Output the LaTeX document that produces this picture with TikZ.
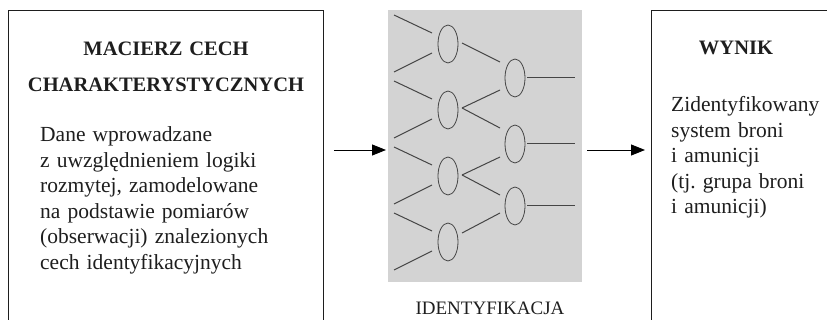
\documentclass[tikz,border=0pt]{standalone}
\usepackage{fontspec}
\setmainfont{Liberation Serif}
\usetikzlibrary{shapes.geometric,arrows.meta,calc}
\definecolor{netgray}{HTML}{D3D3D3}
\definecolor{ink}{HTML}{1E1E1E}
\definecolor{wire}{HTML}{454545}
\frenchspacing
\begin{document}
\begin{tikzpicture}[x=1pt,y=-1pt,
  boxs/.style={draw=ink, line width=0.9pt, inner sep=0pt},
  neur/.style={ellipse, draw=wire, line width=0.8pt, minimum width=20pt, minimum height=38pt, inner sep=0pt},
  wireln/.style={draw=wire, line width=1pt},
  arr/.style={draw=black, line width=0.9pt, -{Triangle[length=14pt,width=11pt]}},
  body/.style={font=\fontsize{21.5}{25.5}\selectfont, text=ink, text width=290pt, align=left, inner sep=0pt, anchor=base west},
  head/.style={font=\bfseries\fontsize{20.5}{36}\selectfont, text=ink, align=center, inner sep=0pt, anchor=base}]
\path[use as bounding box] (0,0) rectangle (827,320);
\clip (0,0) rectangle (827,320);
\fill[white] (0,0) rectangle (827,320);
% boxes
\node[boxs, minimum width=315pt, minimum height=330pt, anchor=north west] (lbox) at (8,10) {};
\node[boxs, minimum width=200pt, minimum height=330pt, anchor=north west] (rbox) at (651,10) {};
\node[fill=netgray, minimum width=194pt, minimum height=272pt, anchor=north west, inner sep=0pt] (net) at (388,10) {};
% neurons
\foreach \i/\y in {1/44,2/110,3/176,4/242}{
  \node[neur] (E\i) at (448,\y) {};
}
\foreach \i/\y in {1/78,2/144,3/206}{
  \node[neur] (F\i) at (515,\y) {};
}
% inputs
\foreach \i/\y in {1/44,2/110,3/176,4/242}{
  \coordinate (in\i a) at (394,\y-29);
  \coordinate (in\i b) at (394,\y+28);
  \draw[wireln] (in\i a) -- ($(E\i)+(-16,-11)$);
  \draw[wireln] (in\i b) -- ($(E\i)+(-16,9)$);
}
% hidden connections
\draw[wireln] ($(E1)+(14,-1)$) -- ($(F1)+(-15,-16)$);
\draw[wireln] ($(E2)+(14,-2)$) -- ($(F1)+(-15,12)$);
\draw[wireln] ($(E2)+(14,-2)$) -- ($(F2)+(-15,-16)$);
\draw[wireln] ($(E3)+(14,-1)$) -- ($(F2)+(-15,13)$);
\draw[wireln] ($(E3)+(14,-1)$) -- ($(F3)+(-15,-11)$);
\draw[wireln] ($(E4)+(14,-9)$) -- ($(F3)+(-15,7)$);
% outputs
\foreach \i/\y in {1/78,2/144,3/206}{
  \coordinate (out\i) at (575,\y);
  \draw[wireln] ($(F\i)+(12,0)$) -- (out\i);
}
% arrows
\coordinate (mid) at (0,150);
\draw[arr] ($(lbox.east |- mid)+(10,0)$) -- ($(net.west |- mid)+(-2,0)$);
\draw[arr] ($(net.east |- mid)+(5,0)$) -- ($(rbox.west |- mid)+(-6,0)$);
% texts
\node[head, text width=320pt] (lhead) at (166,56) {MACIERZ CECH\\CHARAKTERYSTYCZNYCH};
\node[body] (ltext) at (40,142) {Dane wprowadzane\\z uwzględnieniem logiki\\rozmytej, zamodelowane\\na podstawie pomiarów\\(obserwacji) znalezionych\\cech identyfikacyjnych};
\node[head] (rhead) at (736,55) {WYNIK};
\node[body, text width=160pt] (rtext) at (671,112) {Zidentyfikowany\\system broni\\i amunicji\\(tj. grupa broni\\i amunicji)};
\node[font=\fontsize{19}{23}\selectfont, text=ink, anchor=base, inner sep=0pt] (lab) at (490,315) {IDENTYFIKACJA};
\end{tikzpicture}
\end{document}
